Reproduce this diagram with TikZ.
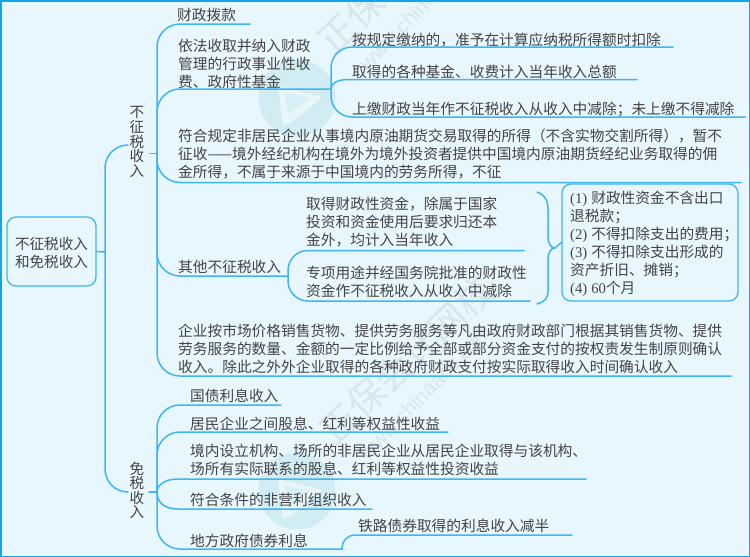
\documentclass[tikz,border=0pt]{standalone}
\usepackage{fontspec}
\setmainfont[Kerning=Off]{Noto Sans CJK SC}
\newfontfamily\latf{Liberation Serif}
\newfontfamily\wmf{Liberation Sans}
\definecolor{bgc}{HTML}{E8F6FE}
\definecolor{framec}{HTML}{12A5EA}
\definecolor{linec}{HTML}{3FB6F0}
\definecolor{textc}{HTML}{444444}
\definecolor{wmc}{HTML}{D8E6EC}
\definecolor{logoc}{HTML}{D2ECF4}
\tikzset{
  x=1pt,y=-1pt,
  conn/.style={draw=linec,line width=1.5pt,line cap=round},
  txt/.style={anchor=north west,inner sep=0pt,yshift=9.5pt,align=left,text=textc,
    font=\fontsize{14.7}{18}\selectfont,execute at begin node=\rule{0pt}{15pt}},
  vtxt/.style={anchor=north,inner sep=0pt,yshift=9.5pt,align=center,text=textc,
    font=\fontsize{14.6}{14.6}\selectfont,execute at begin node=\rule{0pt}{15pt}},
  boxed/.style={draw=linec,line width=1.3pt,rounded corners=9pt,inner sep=0pt,text=textc},
  wmark/.style={text=wmc,inner sep=0pt},
}
\newcommand{\numm}[1]{{\latf(#1)}\hspace{4pt}}
\begin{document}
\begin{tikzpicture}
\useasboundingbox (0,0) rectangle (750,557);
\fill[bgc] (0,0) rectangle (750,557);
% watermarks
\begin{scope}
\clip (0,0) rectangle (750,557);
\foreach \dy in {0,393}{
  \fill[logoc] (297,98+\dy) circle[radius=38.5];
  \fill[white!50!logoc] (278,86+\dy) -- (322,97+\dy) -- (292,122+\dy) -- (283,126+\dy) -- cycle;
  \fill[logoc!85!white] (284,92+\dy) -- (310,98+\dy) -- (288,114+\dy) -- cycle;
}
\node[wmark,rotate=43,font=\fontsize{37}{37}\selectfont] (wm1) at (405,-30) {正保会计网校};
\node[wmark,rotate=43,font=\fontsize{37}{37}\selectfont] (wm2) at (407,360) {正保会计网校};
\node[wmark,rotate=46,font=\wmf\fontsize{21}{21}\selectfont] (wm3) at (425,2) {www.chinaacc.com};
\node[wmark,rotate=46,font=\wmf\fontsize{21}{21}\selectfont] (wm4) at (425,392) {www.chinaacc.com};
\end{scope}
\draw[framec,line width=1.5pt] (0.75,0.75) rectangle (749.25,556.25);

% nodes
\node[boxed,minimum width=89pt,minimum height=69pt,align=center,font=\fontsize{14.6}{18}\selectfont] (root) at (51.5,251.5) {\rule{0pt}{15pt}不征税收入\\和免税收入};
\node[vtxt] (A) at (137,116) {不\\征\\税\\收\\入};
\node[vtxt] (B) at (137,471) {免\\税\\收\\入};

\node[txt] (a1) at (177,15) {财政拨款};
\node[txt] (a2) at (178,48) {依法收取并纳入财政\\管理的行政事业性收\\费、政府性基金};
\node[txt] (a21) at (352,40) {按规定缴纳的，准予在计算应纳税所得额时扣除};
\node[txt] (a22) at (352,72) {取得的各种基金、收费计入当年收入总额};
\node[txt] (a23) at (352,109) {上缴财政当年作不征税收入从收入中减除；未上缴不得减除};
\node[txt] (a3) at (178,138) {符合规定非居民企业从事境内原油期货交易取得的所得（不含实物交割所得），暂不\\征收——境外经纪机构在境外为境外投资者提供中国境内原油期货经纪业务取得的佣\\金所得，不属于来源于中国境内的劳务所得，不征};
\node[txt] (a4) at (178,267) {其他不征税收入};
\node[txt] (a41) at (306,206) {取得财政性资金，除属于国家\\投资和资金使用后要求归还本\\金外，均计入当年收入};
\node[txt] (a42) at (306,275.5) {专项用途并经国务院批准的财政性\\资金作不征税收入从收入中减除};
\node[txt] (a5) at (178,333) {企业按市场价格销售货物、提供劳务服务等凡由政府财政部门根据其销售货物、提供\\劳务服务的数量、金额的一定比例给予全部或部分资金支付的按权责发生制原则确认\\收入。除此之外外企业取得的各种政府财政支付按实际取得收入时间确认收入};
\node[boxed,minimum width=176pt,minimum height=117pt] (note) at (650,242.5) {};
\node[txt] (notet) at (570,200) {\numm{1}财政性资金不含出口\\退税款；\\\numm{2}不得扣除支出的费用；\\\numm{3}不得扣除支出形成的\\资产折旧、摊销；\\\numm{4}{\latf 60}个月};

\node[txt] (b1) at (190,396) {国债利息收入};
\node[txt] (b2) at (190,424) {居民企业之间股息、红利等权益性收益};
\node[txt] (b3) at (190,453) {境内设立机构、场所的非居民企业从居民企业取得与该机构、\\场所有实际联系的股息、红利等权益性投资收益};
\node[txt] (b4) at (190,500) {符合条件的非营利组织收入};
\node[txt] (b5) at (190,541) {地方政府债券利息};
\node[txt] (b51) at (358,526) {铁路债券取得的利息收入减半};

% junctions and line ends
\coordinate (r0) at (105,252);
\coordinate (Ae) at (128,145);
\coordinate (Be) at (128,492);
\coordinate (As) at (150,153.5);
\coordinate (Aj) at (157,153.5);
\coordinate (Bs) at (149,492);
\coordinate (Bj) at (157,492);
\coordinate (a1e) at (250,24);
\coordinate (a2e) at (331,89);
\coordinate (a21e) at (673,47);
\coordinate (a22e) at (637,79.5);
\coordinate (a23e) at (745,117);
\coordinate (a3e) at (741,182.5);
\coordinate (a4e) at (288,276);
\coordinate (a41e) at (524,250.5);
\coordinate (a42e) at (530,301);
\coordinate (a5e) at (731,376);
\coordinate (b1e) at (281,405);
\coordinate (b2e) at (448,432);
\coordinate (b3e) at (586,479);
\coordinate (b4e) at (372,509);
\coordinate (b5e) at (342,549);
\coordinate (b51e) at (572,535);
\coordinate (brT) at (537,192);
\coordinate (brB) at (537,304);
\coordinate (brM) at (555,248);

% connectors
\draw[conn] (root.east) -- (r0);
\draw[conn,rounded corners=23pt] (r0) |- (Ae);
\draw[conn,rounded corners=23pt] (r0) |- (Be);
\draw[conn] (As) -- (Aj);
\draw[conn] (Bs) -- (Bj);
\foreach \e in {a1e,a2e,a3e,a4e,a5e}{\draw[conn,rounded corners=23pt] (Aj) |- (\e);}
\draw[conn,rounded corners=21pt] (a2e) |- (a21e);
\draw[conn] (a2e) .. controls (331,84) and (336,80) .. (347,79.5) -- (a22e);
\draw[conn,rounded corners=21pt] (a2e) |- (a23e);
\draw[conn,rounded corners=20pt] (a4e) |- (a41e);
\draw[conn,rounded corners=20pt] (a4e) |- (a42e);
\foreach \e in {b1e,b2e,b5e}{\draw[conn,rounded corners=23pt] (Bj) |- (\e);}
\draw[conn] (Bj) .. controls (157,485) and (165,479) .. (178,479) -- (b3e);
\draw[conn] (Bj) .. controls (157,503) and (165,509) .. (178,509) -- (b4e);
\draw[conn,rounded corners=13pt] (b5e) |- (b51e);
\draw[conn] (brT) .. controls (544,194) and (548,200) .. (548,209) -- (548,236)
  .. controls (548,244) and (551,248) .. (brM) -- (note.west);
\draw[conn] (brB) .. controls (544,302) and (548,299) .. (548,291) -- (548,260)
  .. controls (548,252) and (551,248) .. (brM);
\end{tikzpicture}
\end{document}
